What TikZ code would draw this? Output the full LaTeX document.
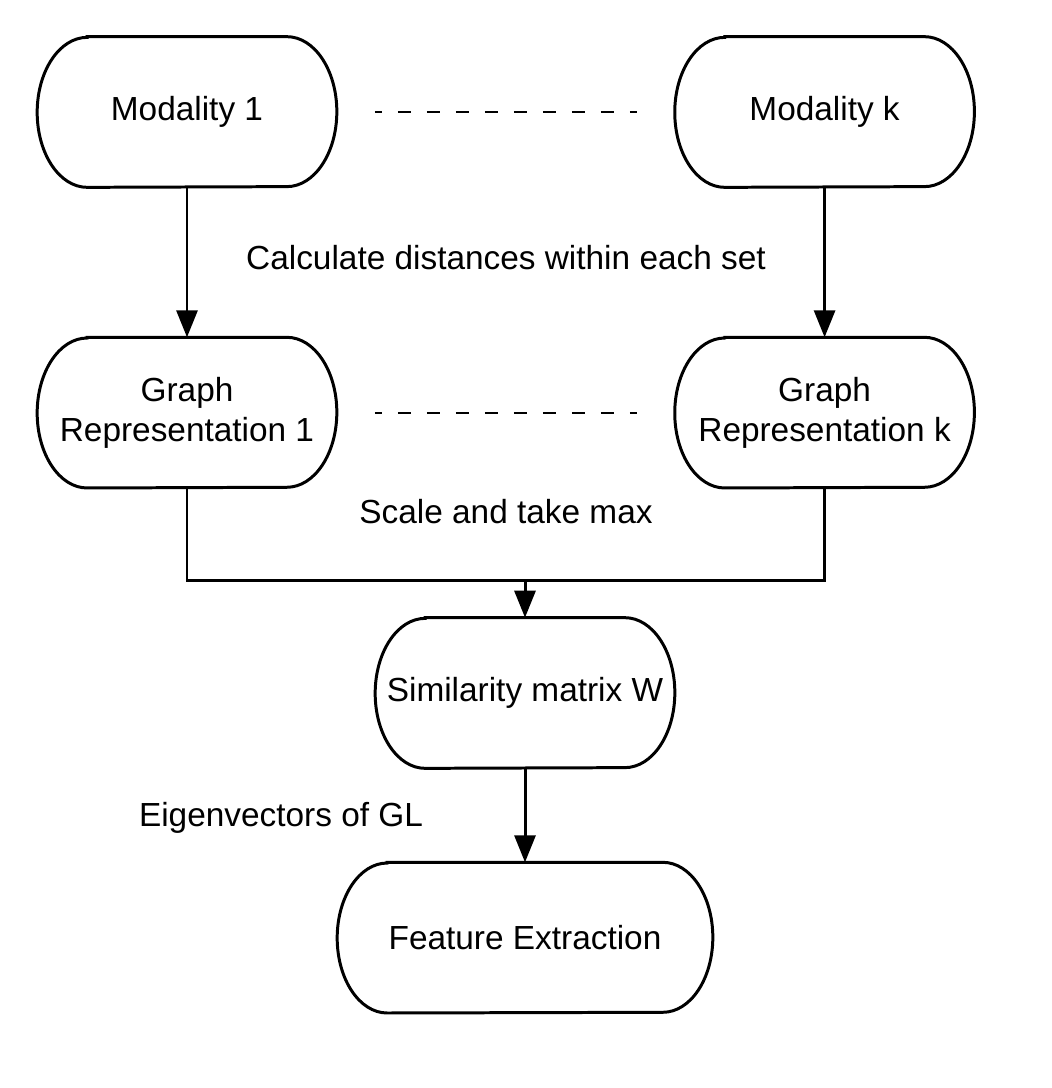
\documentclass[tikz,border=0pt]{standalone}
\usepackage{fontspec}
\setmainfont{Liberation Sans}
\usetikzlibrary{
  arrows.meta, % for the arrow heads
  calc,
  positioning,
}

\tikzset{
  box/.style={minimum width=5.98cm, minimum height=3cm, inner sep=0pt,
    align=center, font=\fontsize{19}{23}\selectfont},
  flow/.style={line width=1.7pt, -{Triangle[length=0.54cm, width=0.42cm]}},
  link/.style={line width=1.7pt},
  dots/.style={line width=1.2pt, dash pattern=on 0.26cm off 0.32cm, dash phase=0.12cm},
  note/.style={font=\fontsize{19}{23}\selectfont},
}
% outline with elliptic ends round a box node
\newcommand{\stadium}[1]{%
  \draw[link] ($(#1.north west)+(1cm,0)$) -- ($(#1.north east)+(-1cm,0)$)
    arc[start angle=90, end angle=-90, x radius=1cm, y radius=1.5cm]
    -- ($(#1.south west)+(1cm,0)$)
    arc[start angle=270, end angle=90, x radius=1cm, y radius=1.5cm] -- cycle;}

\begin{document}
\begin{tikzpicture}[x=0.02cm, y=-0.02cm]
              \useasboundingbox (0,0) rectangle (1051,1088);
              \node [box] (m1) at (187,112) {Modality 1};
              \node [box, right = 6.76cm of m1] (mk) {Modality k};
              \node [box, below = 3cm of m1] (g1) {Graph\\Representation 1};
              \node [box, below = 3cm of mk] (gk) {Graph\\Representation k};
              \node [box] (sim) at (525,693) {Similarity matrix W};
              \node [box, minimum width=7.5cm, below = 1.88cm of sim] (feat) {Feature Extraction};
              \foreach \n in {m1, mk, g1, gk, sim, feat} {\stadium{\n}}
              % dashed gaps between the k sets
              \draw [dots] ($(m1.east)+(0.76cm,0)$) -- ($(mk.west)+(-0.76cm,0)$);
              \draw [dots] ($(g1.east)+(0.76cm,0)$) -- ($(gk.west)+(-0.76cm,0)$);
              % labels
              \node [note] (calc) at (506,258) {Calculate distances within each set};
              \node [note] (scale) at (506,512) {Scale and take max};
              \node [note] (eig) at (281,818) {Eigenvectors of GL};
              % connectors
              \coordinate (join) at (525,580);
              \draw [flow] (m1) -- (g1);
              \draw [flow] (mk) -- (gk);
              \draw [link] (g1.south) |- (join) -| (gk.south);
              \draw [flow] (join) -- (sim);
              \draw [flow] (sim) -- (feat);
            \end{tikzpicture}
\end{document}
